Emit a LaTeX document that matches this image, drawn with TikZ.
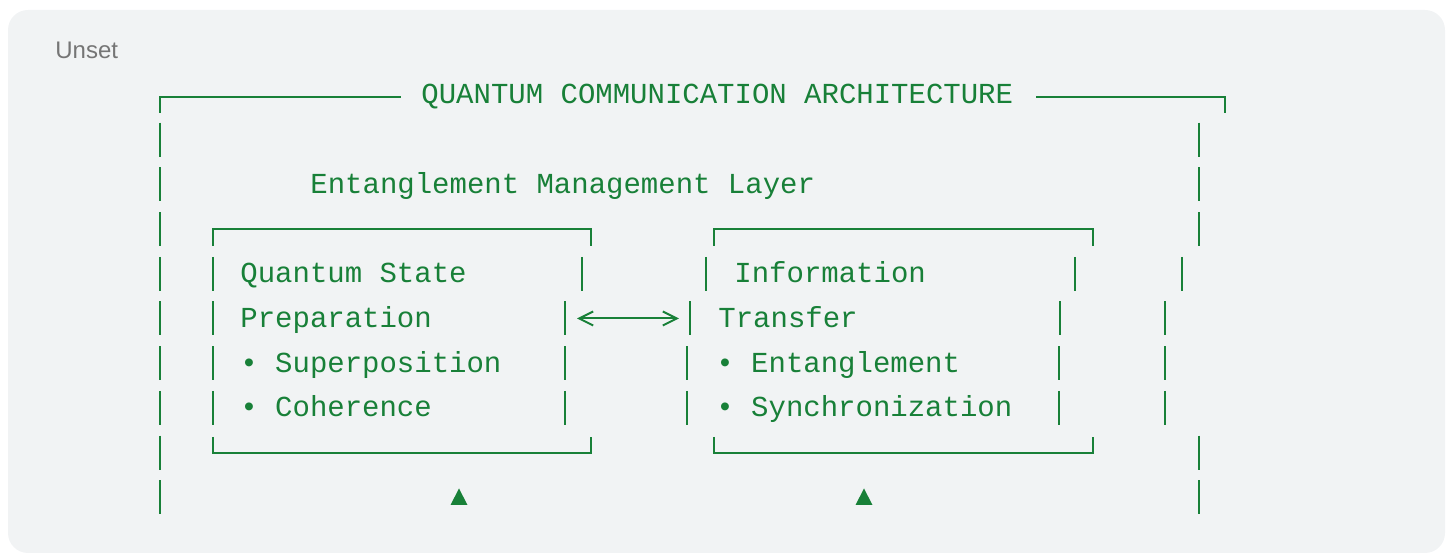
\documentclass[tikz,border=0pt]{standalone}
\usepackage{fontspec}
\setmonofont{Liberation Mono}
\setsansfont{Liberation Sans}
\usetikzlibrary{arrows.meta}

\definecolor{codegreen}{HTML}{188038}
\definecolor{codebg}{HTML}{F1F3F4}
\definecolor{labelgray}{HTML}{757575}

\tikzset{
  txt/.style={anchor=base west, inner sep=0pt, text=codegreen,
    font=\ttfamily\fontsize{14.5}{17}\selectfont},
  bar/.style={draw=codegreen, line width=1pt},
  tip/.style={bar, {Straight Barb[length=7pt,width=7pt]}-{Straight Barb[length=7pt,width=7pt]}},
}

\begin{document}
\begin{tikzpicture}[x=0.5pt, y=-0.5pt]

  \def\d{44.7};
  \def\yo{95};

  \useasboundingbox (0,0) rectangle (1453,555);
  \fill[codebg, rounded corners=10pt] (8,10) rectangle (1445,553);
  \node[anchor=base west, inner sep=0pt, text=labelgray,
        font=\sffamily\fontsize{12}{14}\selectfont] (unset) at (55,59) {Unset};

	%outer frame
 \node[txt] (title) at (421, \yo+9) {QUANTUM COMMUNICATION ARCHITECTURE};
 \draw[bar] (160,113) -- (160,97) -- (401,97);
 \draw[bar] (1036,97) -- (1225,97) -- (1225,113);

    \foreach \r in {1,...,9}{
         \draw[bar] (160, {\yo+\r*\d-17}) -- (160, {\yo+\r*\d+17});
    }
    \foreach \r/\x in {1/1199,2/1199,3/1199,4/1182,5/1165,6/1165,7/1165,8/1199,9/1199}{
         \draw[bar] (\x, {\yo+\r*\d-17}) -- (\x, {\yo+\r*\d+17});
    }

 \node[txt] (layer) at (310, \yo+2*\d+9) {Entanglement Management Layer};

	%left box
 \draw[bar] (213,246) -- (213,{\yo+3*\d}) -- (591,{\yo+3*\d}) -- (591,246);
 \draw[bar] (213,437) -- (213,{\yo+8*\d}) -- (591,{\yo+8*\d}) -- (591,437);
    \foreach \r/\xl/\xr in {4/213/582,5/213/565,6/213/565,7/213/565}{
         \draw[bar] (\xl, {\yo+\r*\d-17}) -- (\xl, {\yo+\r*\d+17});
         \draw[bar] (\xr, {\yo+\r*\d-17}) -- (\xr, {\yo+\r*\d+17});
    }
    \foreach \r/\txt/\name in {4/Quantum State/q1,5/Preparation/q2,6/• Superposition/q3,7/• Coherence/q4}{
         \node[txt] (\name) at (240, {\yo+\r*\d+9}) {\txt};
    }

	%right box
 \draw[bar] (714,246) -- (714,{\yo+3*\d}) -- (1093,{\yo+3*\d}) -- (1093,246);
 \draw[bar] (714,437) -- (714,{\yo+8*\d}) -- (1093,{\yo+8*\d}) -- (1093,437);
    \foreach \r/\xl/\xr in {4/706/1075,5/690/1060,6/687/1059,7/687/1059}{
         \draw[bar] (\xl, {\yo+\r*\d-17}) -- (\xl, {\yo+\r*\d+17});
         \draw[bar] (\xr, {\yo+\r*\d-17}) -- (\xr, {\yo+\r*\d+17});
    }
    \foreach \r/\x/\txt/\name in {4/734/Information/t1,5/718/Transfer/t2,6/716/• Entanglement/t3,7/716/• Synchronization/t4}{
         \node[txt] (\name) at (\x, {\yo+\r*\d+9}) {\txt};
    }

	%link
 \coordinate (arrL) at (577, {\yo+5*\d});
 \coordinate (arrR) at (679, {\yo+5*\d});
 \draw[tip] (arrL) -- (arrR);

	%markers
    \foreach \x in {459,864}{
         \fill[codegreen] (\x-8.5, 505) -- (\x+8.5, 505) -- (\x, 488.5) -- cycle;
    }

\end{tikzpicture}
\end{document}
